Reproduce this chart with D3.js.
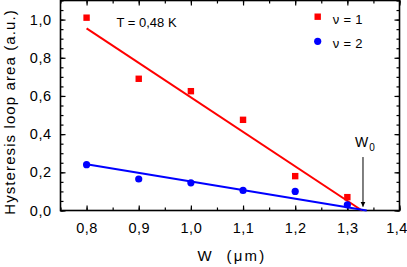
<!DOCTYPE html>
<html>
<head>
<meta charset="utf-8">
<script src="https://cdn.jsdelivr.net/npm/d3@7"></script>
<style>
  body { margin: 0; background: #fff; }
  text { font-family: "Liberation Sans", Arial, sans-serif; }
</style>
</head>
<body>
<div id="chart"></div>
<script>
// data
const widths = [0.8, 0.9, 1.0, 1.1, 1.2, 1.3];
const nu1 = [1.01, 0.69, 0.625, 0.475, 0.18, 0.07];
const nu2 = [0.24, 0.165, 0.145, 0.105, 0.10, 0.03];
// linear fits (end points)
const fit1 = [[0.8, 0.954], [1.328, 0]];
const fit2 = [[0.8, 0.242], [1.337, 0]];
const xTicks = [0.8, 0.9, 1.0, 1.1, 1.2, 1.3, 1.4];
const yTicks = [0.0, 0.2, 0.4, 0.6, 0.8, 1.0];
const w0 = 1.33;

const W = 407, H = 267;
const margin = {top: 0.5, right: 7.5, bottom: 56.5, left: 60.5};
const iw = W - margin.left - margin.right, ih = H - margin.top - margin.bottom;

const svg = d3.select("#chart").append("svg")
  .attr("width", W).attr("height", H);
const g = svg.append("g").attr("transform", `translate(${margin.left},${margin.top})`);

const x = d3.scaleLinear().domain([0.75, 1.4]).range([0, iw]);
const y = d3.scaleLinear().domain([0, 1.1]).range([ih, 0]);
const fmt = d => d3.format(".1f")(d).replace(".", ",");

const minorX = d3.range(0.75, 1.401, 0.05);
const minorY = d3.range(0, 1.101, 0.05);

// axes: ticks point inward on all four sides
const bottomAxis = g.append("g").attr("transform", `translate(0,${ih})`)
  .call(d3.axisBottom(x).tickValues(xTicks).tickFormat(fmt).tickSize(-5).tickPadding(12));
g.append("g").attr("transform", `translate(0,${ih})`)
  .call(d3.axisBottom(x).tickValues(minorX).tickFormat("").tickSize(-3));
g.append("g")
  .call(d3.axisTop(x).tickValues(xTicks).tickFormat("").tickSize(-5));
g.append("g")
  .call(d3.axisTop(x).tickValues(minorX).tickFormat("").tickSize(-3));
g.append("g")
  .call(d3.axisLeft(y).tickValues(yTicks).tickFormat(fmt).tickSize(-5).tickPadding(9));
g.append("g")
  .call(d3.axisLeft(y).tickValues(minorY).tickFormat("").tickSize(-3));
g.append("g").attr("transform", `translate(${iw},0)`)
  .call(d3.axisRight(y).tickValues(yTicks).tickFormat("").tickSize(-5));
g.append("g").attr("transform", `translate(${iw},0)`)
  .call(d3.axisRight(y).tickValues(minorY).tickFormat("").tickSize(-3));

g.selectAll(".domain").remove();
g.selectAll(".tick line").attr("stroke", "#000").attr("stroke-width", 1.2);
g.selectAll(".tick text").attr("font-size", 14.5).attr("fill", "#000")
  .attr("letter-spacing", 0.5)
  .style("font-family", "Liberation Sans, Arial, sans-serif");
// last x label sits at the page edge; nudge it inside like the original
bottomAxis.selectAll(".tick text").filter(d => d === 1.4).attr("dx", -3);

g.append("rect").attr("width", iw).attr("height", ih)
  .attr("fill", "none").attr("stroke", "#000").attr("stroke-width", 1.6);

// fits
const line = d3.line().x(d => x(d[0])).y(d => y(d[1]));
g.append("path").datum(fit1).attr("d", line).attr("fill", "none")
  .attr("stroke", "#ff0000").attr("stroke-width", 2);
g.append("path").datum(fit2).attr("d", line).attr("fill", "none")
  .attr("stroke", "#0000ff").attr("stroke-width", 2);

// markers
g.selectAll("rect.n1").data(widths).enter().append("rect")
  .attr("x", d => x(d) - 3.2)
  .attr("y", (d, i) => y(nu1[i]) - 3.2)
  .attr("width", 6.4).attr("height", 6.4).attr("fill", "#ff0000");
g.selectAll("circle.n2").data(widths).enter().append("circle")
  .attr("cx", d => x(d)).attr("cy", (d, i) => y(nu2[i]))
  .attr("r", 3.6).attr("fill", "#0000ff");

// W0 arrow
svg.append("defs").append("marker").attr("id", "ah")
  .attr("viewBox", "0 0 10 10").attr("refX", 10).attr("refY", 5)
  .attr("markerWidth", 5).attr("markerHeight", 8).attr("orient", "auto")
  .attr("markerUnits", "userSpaceOnUse")
  .append("path").attr("d", "M0,0L10,5L0,10Z").attr("fill", "#000");
g.append("line").attr("x1", x(w0)).attr("x2", x(w0))
  .attr("y1", y(0.28)).attr("y2", y(0.02))
  .attr("stroke", "#000").attr("stroke-width", 1).attr("marker-end", "url(#ah)");
const w0t = svg.append("text").attr("x", 355).attr("y", 146.5)
  .attr("font-size", 14).attr("fill", "#000").text("W");
w0t.append("tspan").attr("font-size", 10).attr("dx", 1).attr("dy", 4.5).text("0");

// annotations
svg.append("text").attr("x", 116.5).attr("y", 26.5)
  .attr("font-size", 13).attr("fill", "#000").text("T = 0,48 K");

// legend
const legend = [{t: "\u03bd = 1", c: "#ff0000", s: "sq", ty: 24}, {t: "\u03bd = 2", c: "#0000ff", s: "ci", ty: 48.3}];
legend.forEach(d => {
  if (d.s === "sq") {
    svg.append("rect").attr("x", 317.7 - 3.2).attr("y", d.ty - 7.3 - 3.2)
      .attr("width", 6.4).attr("height", 6.4).attr("fill", d.c);
  } else {
    svg.append("circle").attr("cx", 317.7).attr("cy", d.ty - 7)
      .attr("r", 3.6).attr("fill", d.c);
  }
  svg.append("text").attr("x", 332.7).attr("y", d.ty)
    .attr("font-size", 13).attr("letter-spacing", 0.3).attr("fill", "#000").text(d.t);
});

// axis titles
svg.append("text").attr("x", 232).attr("y", 261).attr("text-anchor", "middle")
  .attr("font-size", 15).attr("letter-spacing", 2.2).attr("fill", "#000")
  .attr("xml:space", "preserve").text("W  (\u03bcm)");
svg.append("text").attr("transform", "translate(14.5,112) rotate(-90)").attr("text-anchor", "middle")
  .attr("font-size", 15).attr("letter-spacing", 1.1).attr("fill", "#000").text("Hysteresis loop area (a.u.)");
</script>
</body>
</html>
